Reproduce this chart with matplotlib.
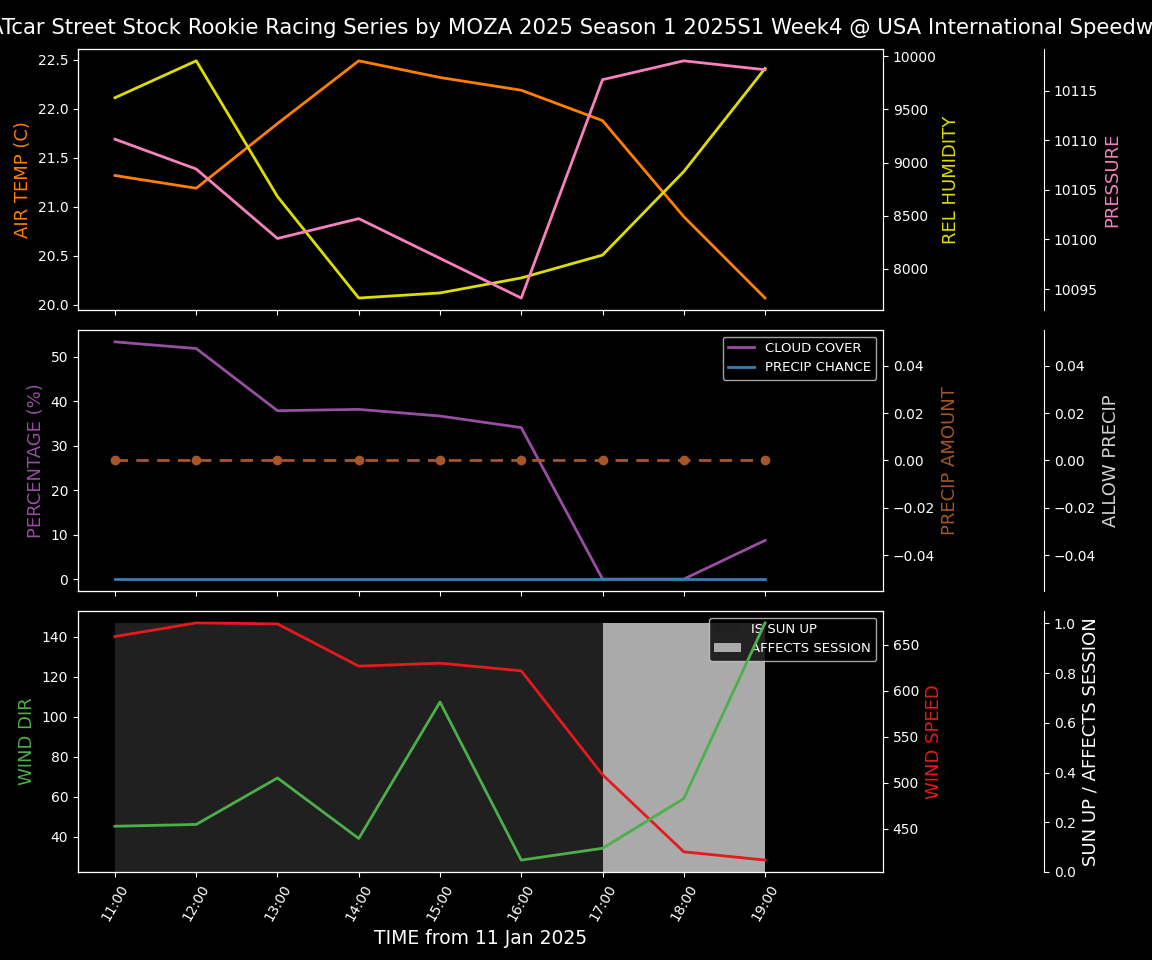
import matplotlib
matplotlib.use('Agg')
import matplotlib.pyplot as plt
import matplotlib.dates as mdates
import pandas as pd

plt.style.use('dark_background')

title = ('NATcar Street Stock Rookie Racing Series by MOZA 2025 Season 1 '
         '2025S1 Week4 @ USA International Speedway')

times = ['11:00', '12:00', '13:00', '14:00', '15:00', '16:00', '17:00', '18:00', '19:00']

air_temp = [21.32, 21.19, 21.85, 22.49, 22.32, 22.19, 21.88, 20.90, 20.07]
rel_humidity = [9609, 9956, 8680, 7726, 7774, 7915, 8130, 8915, 9884]
pressure = [10110.1, 10107.1, 10100.1, 10102.1, 10098.1, 10094.1, 10116.1, 10118.0, 10117.1]

cloud_cover = [53.4, 51.9, 37.9, 38.2, 36.7, 34.1, 0.0, 0.0, 8.7]
precip_chance = [0, 0, 0, 0, 0, 0, 0, 0, 0]
precip_amount = [0, 0, 0, 0, 0, 0, 0, 0, 0]

wind_dir = [45.3, 46.2, 69.4, 39.2, 107.3, 28.4, 34.3, 59.1, 146.8]
wind_speed = [658.7, 673.5, 672.4, 626.6, 629.8, 621.5, 508.8, 425.2, 416.2]
is_sun_up = [1, 1, 1, 1, 1, 1, 0, 0, 0]
affects_session = [0, 0, 0, 0, 0, 0, 1, 1, 1]

# colours (Set1-ish)
c_temp = '#ff7f00'
c_hum = '#dddd00'
c_pres = '#f781bf'
c_cloud = '#984ea3'
c_pchance = '#377eb8'
c_pamount = '#a65628'
c_allow = '#d3d3d3'
c_wdir = '#4daf4a'
c_wspd = '#e41a1c'

x = pd.to_datetime(['2025-01-11 ' + t for t in times])

fig, (ax_t, ax_m, ax_b) = plt.subplots(3, 1, sharex=True, figsize=(11.52, 9.6), dpi=100)
fig.subplots_adjust(left=0.0677, right=0.7665, top=0.949, bottom=0.0917, hspace=0.077)
fig.suptitle(title, fontsize=15.3, y=0.981)

LW = 2
LBL = 13
OFFSET = 1.2

# --- top: temperature / humidity / pressure
ax_t.plot(x, air_temp, color=c_temp, lw=LW)
ax_t.set_ylabel('AIR TEMP (C)', color=c_temp, fontsize=LBL)
ax_t2 = ax_t.twinx()
ax_t2.plot(x, rel_humidity, color=c_hum, lw=LW)
ax_t2.set_ylabel('REL HUMIDITY', color=c_hum, fontsize=LBL)
ax_t3 = ax_t.twinx()
ax_t3.spines['right'].set_position(('axes', OFFSET))
ax_t3.plot(x, pressure, color=c_pres, lw=LW)
ax_t3.set_ylabel('PRESSURE', color=c_pres, fontsize=LBL)

# --- middle: clouds / precip
ax_m.plot(x, cloud_cover, color=c_cloud, lw=LW, label='CLOUD COVER')
ax_m.plot(x, precip_chance, color=c_pchance, lw=LW, label='PRECIP CHANCE')
ax_m.set_ylabel('PERCENTAGE (%)', color=c_cloud, fontsize=LBL)
ax_m.legend(loc='upper right', fontsize=9.5)
ax_m2 = ax_m.twinx()
ax_m2.plot(x, precip_amount, 'o', color=c_pamount, ls=(0, (4.5, 3)), lw=LW)
ax_m2.set_ylabel('PRECIP AMOUNT', color=c_pamount, fontsize=LBL)
ax_m3 = ax_m.twinx()
ax_m3.spines['right'].set_position(('axes', OFFSET))
ax_m3.set_ylim(-0.055, 0.055)
ax_m3.set_ylabel('ALLOW PRECIP', color=c_allow, fontsize=LBL)

# --- bottom: wind / sun
ax_b3 = ax_b.twinx()
ax_b3.spines['right'].set_position(('axes', OFFSET))
ax_b3.fill_between(x, is_sun_up, step='post', color='#202020', lw=0, label='IS SUN UP')
ax_b3.fill_between(x, affects_session, step='post', color='#aaaaaa', lw=0,
                   label='AFFECTS SESSION')
ax_b3.set_ylim(0, 1.05)
ax_b3.set_ylabel('SUN UP / AFFECTS SESSION', color='white', fontsize=LBL)
ax_b3.legend(loc='upper right', fontsize=9.5)

ax_b2 = ax_b.twinx()
ax_b2.plot(x, wind_speed, color=c_wspd, lw=LW)
ax_b2.set_ylabel('WIND SPEED', color=c_wspd, fontsize=LBL)

ax_b.plot(x, wind_dir, color=c_wdir, lw=LW)
ax_b.set_ylabel('WIND DIR', color=c_wdir, fontsize=LBL)
ax_b3.set_zorder(0)
ax_b2.set_zorder(1)
ax_b.set_zorder(2)
ax_b.patch.set_visible(False)

ax_b.set_xlim(x[0] - pd.Timedelta(minutes=27.3), x[-1] + pd.Timedelta(minutes=87.1))
ax_b.set_xticks(x)
ax_b.xaxis.set_major_formatter(mdates.DateFormatter('%H:%M'))
plt.setp(ax_b.get_xticklabels(), rotation=60)
ax_b.set_xlabel('TIME from 11 Jan 2025', fontsize=LBL + 0.5)

fig.savefig('out.png', dpi=100, facecolor='black')
